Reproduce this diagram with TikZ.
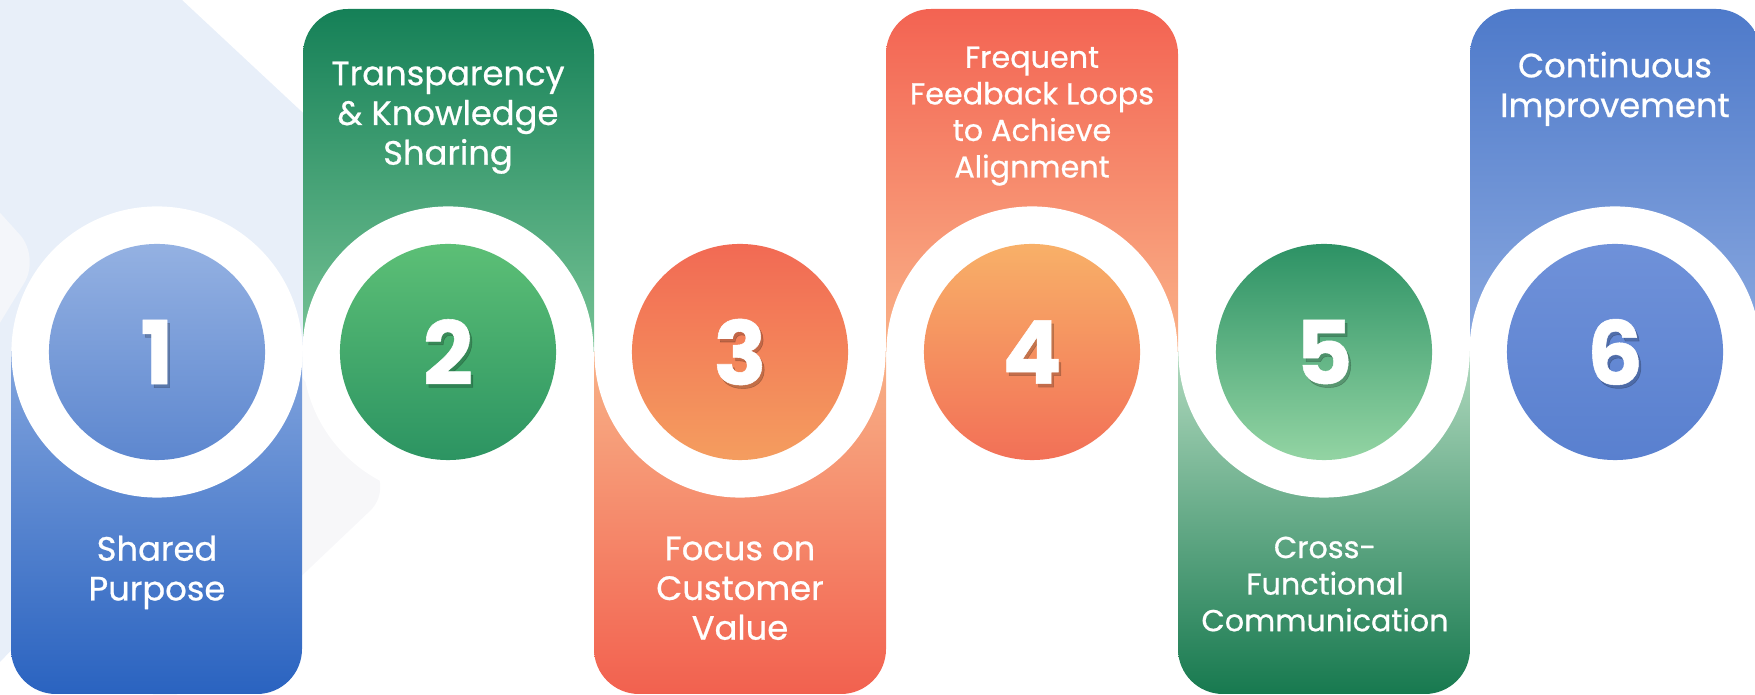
\documentclass[tikz,border=0pt]{standalone}
\usepackage{fontspec}
\setmainfont{Poppins}
\newfontfamily\lblfont{Poppins}[FakeBold=0.7]
\newfontfamily\numfont{Poppins}[BoldFeatures={FakeBold=0.6}]
\usepackage{tikz}

\definecolor{bgblue}{HTML}{E8EFF9}
\definecolor{bgpale}{HTML}{F4F6FA}
\definecolor{bggray}{HTML}{F7F7F9}

\definecolor{colAtop}{HTML}{8FAEE2}\definecolor{colAmid}{HTML}{5F8BD2}\definecolor{colAbot}{HTML}{2A63C0}
\definecolor{colBtop}{HTML}{158057}\definecolor{colBbot}{HTML}{86CE9F}
\definecolor{colCtop}{HTML}{F9BE90}\definecolor{colCmid}{HTML}{F7A27E}\definecolor{colCbot}{HTML}{F2614F}
\definecolor{colDtop}{HTML}{F36352}\definecolor{colDbot}{HTML}{FBBF91}
\definecolor{colEtop}{HTML}{C8E8CF}\definecolor{colEmid}{HTML}{8CCB9F}\definecolor{colEbot}{HTML}{17794F}
\definecolor{colFtop}{HTML}{4E7ACA}\definecolor{colFbot}{HTML}{94B0E3}

\definecolor{dotAtop}{HTML}{94B1E2}\definecolor{dotAbot}{HTML}{5D87CF}
\definecolor{dotBtop}{HTML}{5CBF76}\definecolor{dotBbot}{HTML}{2C9462}
\definecolor{dotCtop}{HTML}{F26A54}\definecolor{dotCbot}{HTML}{F49D5F}
\definecolor{dotDtop}{HTML}{F8B068}\definecolor{dotDbot}{HTML}{F27057}
\definecolor{dotEtop}{HTML}{2D9265}\definecolor{dotEbot}{HTML}{93D4A3}
\definecolor{dotFtop}{HTML}{6F91D9}\definecolor{dotFbot}{HTML}{5980CF}

\tikzset{
  ring/.style={
    circle, fill=white, minimum size=2.91cm, inner sep=0mm
  },
  dot/.style={
    circle, minimum size=2.16cm, inner sep=0mm
  },
  numtxt/.style={
    text=white, inner sep=0mm, font=\numfont\fontsize{25}{25}\selectfont\bfseries
  },
  numshade/.style={
    numtxt, text=black, opacity=0.2
  },
  lbl/.style={
    anchor=north, align=center, text=white, inner sep=0mm,
    font=\lblfont\fontsize{9.6}{11.3}\selectfont, execute at begin node=\strut
  },
  lblsmall/.style={
    lbl, font=\lblfont\fontsize{8.6}{10.4}\selectfont
  }
}

\begin{document}
\begin{tikzpicture}[x=0.01cm, y=-0.01cm]
  \useasboundingbox (0,0) rectangle (1755,695);

  % faint background shapes
  \fill[bgblue] (0,0) -- (182,0) -- (420,222) -- (0,662) -- cycle;
  \fill[bgpale, rounded corners=0.3cm] (-120,80) -- (40,257) -- (-120,520) -- cycle;
  \fill[bggray, rounded corners=0.3cm] (200,250) -- (392,490) -- (150,720) -- cycle;

  % lower columns
  \begin{scope}
    \clip (0,352) rectangle (1760,700);
    \shade[top color=colAtop, middle color=colAmid, bottom color=colAbot, rounded corners=0.45cm]
      (11,300) rectangle (302,694);
    \shade[top color=colCtop, middle color=colCmid, bottom color=colCbot, rounded corners=0.45cm]
      (594,300) rectangle (886,694);
    \shade[top color=colEtop, middle color=colEmid, bottom color=colEbot, rounded corners=0.45cm]
      (1178,300) rectangle (1470,694);
  \end{scope}

  % upper columns
  \begin{scope}
    \clip (0,0) rectangle (1760,352);
    \shade[top color=colBtop, bottom color=colBbot, rounded corners=0.45cm]
      (303,9) rectangle (594,405);
    \shade[top color=colDtop, bottom color=colDbot, rounded corners=0.45cm]
      (886,9) rectangle (1178,405);
    \shade[top color=colFtop, bottom color=colFbot, rounded corners=0.45cm]
      (1470,9) rectangle (1761,405);
  \end{scope}

  % rings and numbered discs
  \node[ring] (r1) at (157,352) {};
  \node[ring] (r2) at (448,352) {};
  \node[ring] (r3) at (740,352) {};
  \node[ring] (r4) at (1032,352) {};
  \node[ring] (r5) at (1324,352) {};
  \node[ring] (r6) at (1615,352) {};

  \node[dot, top color=dotAtop, bottom color=dotAbot] (d1) at (r1) {};
  \node[dot, top color=dotBtop, bottom color=dotBbot] (d2) at (r2) {};
  \node[dot, top color=dotCtop, bottom color=dotCbot] (d3) at (r3) {};
  \node[dot, top color=dotDtop, bottom color=dotDbot] (d4) at (r4) {};
  \node[dot, top color=dotEtop, bottom color=dotEbot] (d5) at (r5) {};
  \node[dot, top color=dotFtop, bottom color=dotFbot] (d6) at (r6) {};

  \node[numshade] (s1) at ([shift={(0.025cm,-0.035cm)}]d1) {1};
  \node[numshade] (s2) at ([shift={(0.025cm,-0.035cm)}]d2) {2};
  \node[numshade] (s3) at ([shift={(0.025cm,-0.035cm)}]d3) {3};
  \node[numshade] (s4) at ([shift={(0.025cm,-0.035cm)}]d4) {4};
  \node[numshade] (s5) at ([shift={(0.025cm,-0.035cm)}]d5) {5};
  \node[numshade] (s6) at ([shift={(0.025cm,-0.035cm)}]d6) {6};

  \node[numtxt] (n1) at (d1) {1};
  \node[numtxt] (n2) at (d2) {2};
  \node[numtxt] (n3) at (d3) {3};
  \node[numtxt] (n4) at (d4) {4};
  \node[numtxt] (n5) at (d5) {5};
  \node[numtxt] (n6) at (d6) {6};

  % labels
  \node[lbl] (t1) at (157,535) {Shared\\Purpose};
  \node[lbl] (t2) at (448,61) {Transparency\\\& Knowledge\\Sharing};
  \node[lbl] (t3) at (740,536) {Focus on\\Customer\\Value};
  \node[lblsmall] (t4) at (1032,46) {Frequent\\Feedback Loops\\to Achieve\\Alignment};
  \node[lblsmall] (t5) at (1325,536) {Cross-\\Functional\\Communication};
  \node[lbl] (t6) at (1615,51) {Continuous\\Improvement};
\end{tikzpicture}
\end{document}
